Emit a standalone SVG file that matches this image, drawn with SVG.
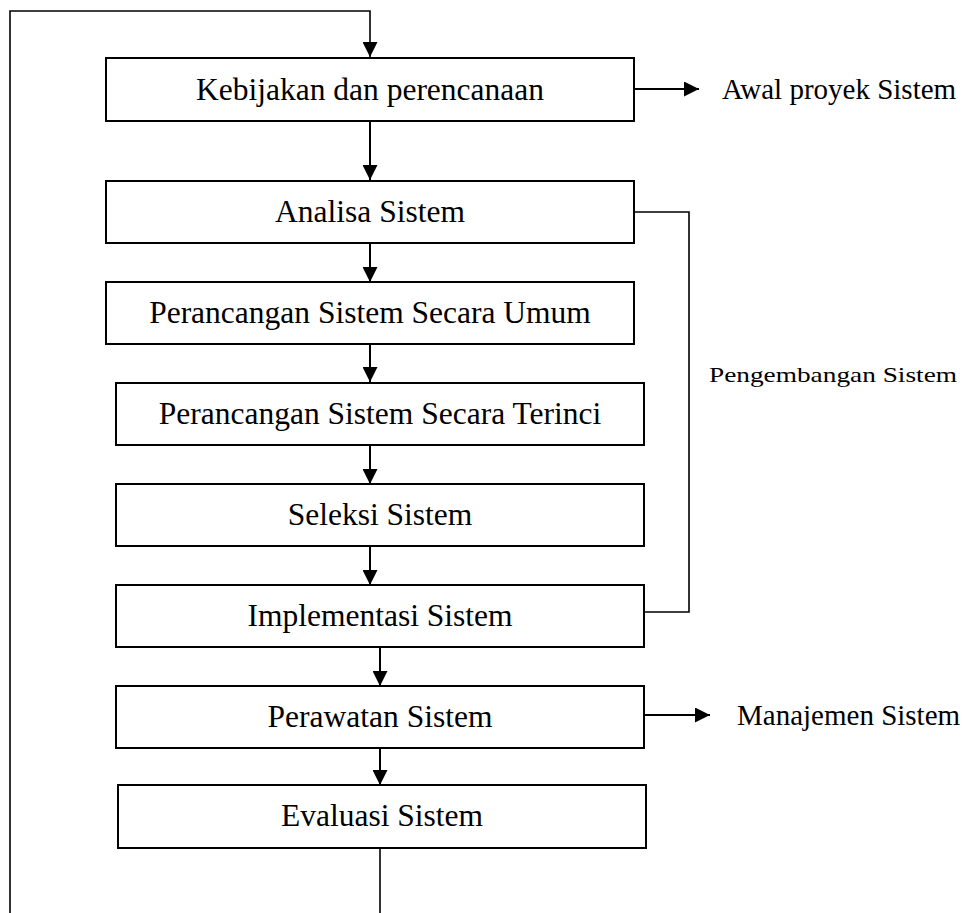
<svg xmlns="http://www.w3.org/2000/svg" width="964" height="913" viewBox="0 0 964 913">
<style>
.box{fill:#fff;stroke:#000;stroke-width:2}
.t{font-family:"Liberation Serif","Times New Roman",serif;font-size:31.5px;fill:#000;text-anchor:middle}
.lbl{font-family:"Liberation Serif","Times New Roman",serif;font-size:29px;fill:#000}
.sm{font-family:"Liberation Serif","Times New Roman",serif;font-size:21px;fill:#000}
.c{fill:none;stroke:#000;stroke-width:2}
.thin{fill:none;stroke:#000;stroke-width:1.6}
</style>
<defs>
<marker id="ah" viewBox="0 0 10 10" refX="10" refY="5" markerWidth="15" markerHeight="15" markerUnits="userSpaceOnUse" orient="auto">
<path d="M0,0 L10,5 L0,10 Z" fill="#000"/>
</marker>
</defs>
<g id="connectors">
<path class="thin" d="M380,913 V848"/>
<path class="thin" d="M10,913 V11 H370 V57" marker-end="url(#ah)"/>
<path class="c" d="M634,89 H699" marker-end="url(#ah)"/>
<path class="c" d="M370,121 V180" marker-end="url(#ah)"/>
<path class="c" d="M370,243 V282" marker-end="url(#ah)"/>
<path class="c" d="M370,344 V382" marker-end="url(#ah)"/>
<path class="c" d="M370,445 V484" marker-end="url(#ah)"/>
<path class="c" d="M370,546 V585" marker-end="url(#ah)"/>
<path class="c" d="M380,647 V686" marker-end="url(#ah)"/>
<path class="c" d="M380,748 V785" marker-end="url(#ah)"/>
<path class="c" d="M644,715 H710" marker-end="url(#ah)"/>
<path class="thin" d="M634,212 H689 V612 H644"/>
</g>
<g id="n1"><rect class="box" x="106" y="58" width="528" height="63"/><text class="t" x="370" y="100">Kebijakan dan perencanaan</text></g>
<g id="n2"><rect class="box" x="106" y="181" width="528" height="62"/><text class="t" x="370" y="222">Analisa Sistem</text></g>
<g id="n3"><rect class="box" x="106" y="282" width="528" height="62"/><text class="t" x="370" y="323">Perancangan Sistem Secara Umum</text></g>
<g id="n4"><rect class="box" x="116" y="383" width="528" height="62"/><text class="t" x="380" y="424">Perancangan Sistem Secara Terinci</text></g>
<g id="n5"><rect class="box" x="116" y="484" width="528" height="62"/><text class="t" x="380" y="525">Seleksi Sistem</text></g>
<g id="n6"><rect class="box" x="116" y="585" width="528" height="62"/><text class="t" x="380" y="626">Implementasi Sistem</text></g>
<g id="n7"><rect class="box" x="116" y="686" width="528" height="62"/><text class="t" x="380" y="727">Perawatan Sistem</text></g>
<g id="n8"><rect class="box" x="118" y="785" width="528" height="63"/><text class="t" x="382" y="826">Evaluasi Sistem</text></g>
<g id="labels">
<text class="lbl" x="722" y="99">Awal proyek Sistem</text>
<text class="sm" x="709" y="382" textLength="248" lengthAdjust="spacingAndGlyphs">Pengembangan Sistem</text>
<text class="lbl" x="737" y="725">Manajemen Sistem</text>
</g>
</svg>
